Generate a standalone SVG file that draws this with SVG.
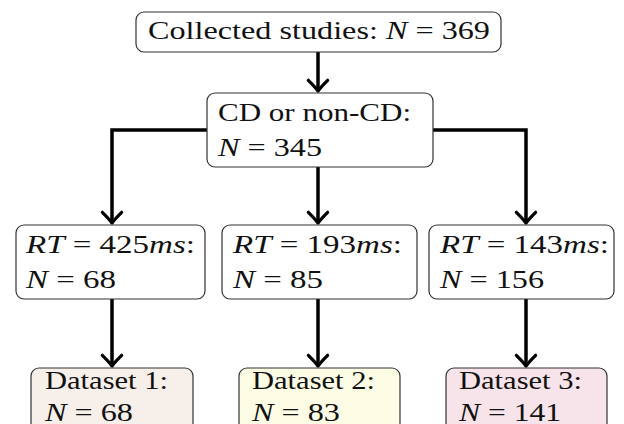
<svg xmlns="http://www.w3.org/2000/svg" width="624" height="424" viewBox="0 0 624 424">
<defs>
<style>
.box{stroke:#333;stroke-width:1.2;fill:#fff}
.t{font-family:"Liberation Serif","Times New Roman",serif;font-size:26px;fill:#111}
.i{font-style:italic}
.c{stroke:#000;stroke-width:3.5;fill:none}
</style>
<marker id="ah" markerUnits="userSpaceOnUse" markerWidth="30" markerHeight="30" viewBox="-14 -14 28 28" refX="0" refY="0" orient="auto" overflow="visible">
<path d="M -10 -9 Q -3 -2 0 0 Q -3 2 -10 9" fill="none" stroke="#000" stroke-width="3" stroke-linecap="round" stroke-linejoin="round"/>
</marker>
</defs>
<rect width="624" height="424" fill="#fff"/>
<g id="connectors">
<path class="c" d="M318 52 V91" marker-end="url(#ah)"/>
<path class="c" d="M207 130 H112 V223" marker-end="url(#ah)"/>
<path class="c" d="M433 130 H526 V223" marker-end="url(#ah)"/>
<path class="c" d="M318 167 V223" marker-end="url(#ah)"/>
<path class="c" d="M112 299 V366" marker-end="url(#ah)"/>
<path class="c" d="M318 299 V366" marker-end="url(#ah)"/>
<path class="c" d="M526 299 V366" marker-end="url(#ah)"/>
</g>
<g id="collected">
<rect class="box" x="136" y="12" width="365" height="40" rx="8"/>
<text class="t" x="148" y="39" textLength="342" lengthAdjust="spacingAndGlyphs">Collected studies: <tspan class="i">N</tspan> = 369</text>
</g>
<g id="cd">
<rect class="box" x="207" y="93" width="226" height="74" rx="8"/>
<text class="t" x="218" y="121" textLength="193" lengthAdjust="spacingAndGlyphs">CD or non-CD:</text>
<text class="t" x="218" y="156" textLength="104" lengthAdjust="spacingAndGlyphs"><tspan class="i">N</tspan> = 345</text>
</g>
<g id="rt425">
<rect class="box" x="16" y="225" width="189" height="74" rx="8"/>
<text class="t" x="26" y="253" textLength="169" lengthAdjust="spacingAndGlyphs"><tspan class="i">RT</tspan> = 425<tspan class="i">ms</tspan>:</text>
<text class="t" x="26" y="288" textLength="90" lengthAdjust="spacingAndGlyphs"><tspan class="i">N</tspan> = 68</text>
</g>
<g id="rt193">
<rect class="box" x="222" y="225" width="195" height="74" rx="8"/>
<text class="t" x="233" y="253" textLength="169" lengthAdjust="spacingAndGlyphs"><tspan class="i">RT</tspan> = 193<tspan class="i">ms</tspan>:</text>
<text class="t" x="233" y="288" textLength="90" lengthAdjust="spacingAndGlyphs"><tspan class="i">N</tspan> = 85</text>
</g>
<g id="rt143">
<rect class="box" x="429" y="225" width="185" height="74" rx="8"/>
<text class="t" x="440" y="253" textLength="169" lengthAdjust="spacingAndGlyphs"><tspan class="i">RT</tspan> = 143<tspan class="i">ms</tspan>:</text>
<text class="t" x="440" y="288" textLength="104" lengthAdjust="spacingAndGlyphs"><tspan class="i">N</tspan> = 156</text>
</g>
<g id="dataset1">
<rect class="box" x="31" y="368" width="162" height="70" rx="8" style="fill:#f6efea"/>
<text class="t" x="45" y="389" textLength="123" lengthAdjust="spacingAndGlyphs">Dataset 1:</text>
<text class="t" x="45" y="421" textLength="88" lengthAdjust="spacingAndGlyphs"><tspan class="i">N</tspan> = 68</text>
</g>
<g id="dataset2">
<rect class="box" x="239" y="368" width="161" height="70" rx="8" style="fill:#fdfde6"/>
<text class="t" x="252" y="389" textLength="123" lengthAdjust="spacingAndGlyphs">Dataset 2:</text>
<text class="t" x="252" y="421" textLength="88" lengthAdjust="spacingAndGlyphs"><tspan class="i">N</tspan> = 83</text>
</g>
<g id="dataset3">
<rect class="box" x="446" y="368" width="161" height="70" rx="8" style="fill:#f7e3ea"/>
<text class="t" x="459" y="389" textLength="123" lengthAdjust="spacingAndGlyphs">Dataset 3:</text>
<text class="t" x="459" y="421" textLength="102" lengthAdjust="spacingAndGlyphs"><tspan class="i">N</tspan> = 141</text>
</g>
</svg>
